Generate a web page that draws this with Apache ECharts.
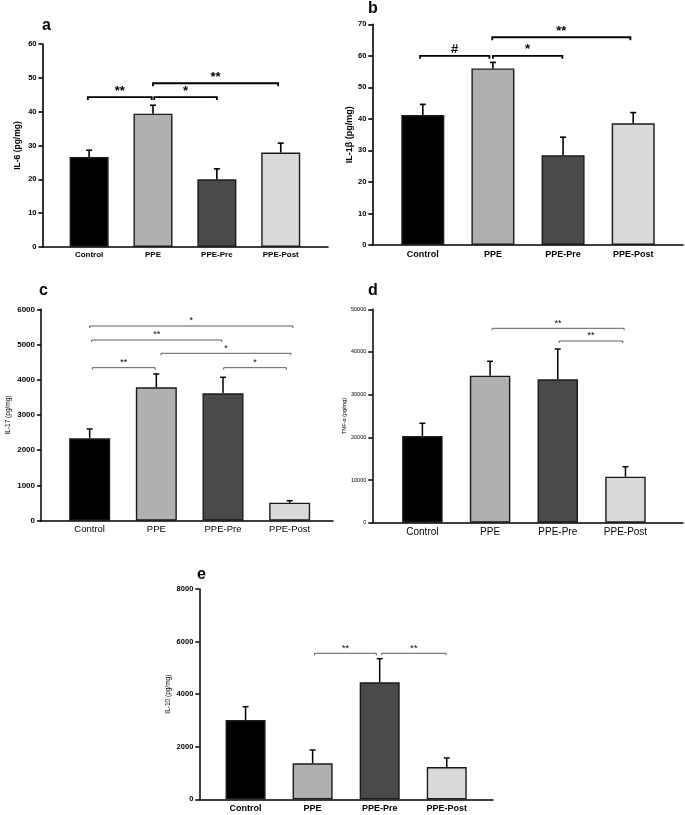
<!DOCTYPE html>
<html>
<head>
<meta charset="utf-8">
<script src="https://cdn.jsdelivr.net/npm/echarts@6/dist/echarts.min.js"></script>
<style>html,body{margin:0;padding:0;background:#fff}#c{width:685px;height:815px}</style>
</head>
<body>
<div id="c"></div>
<script>
// ---------- data ----------
const categories = ['Control', 'PPE', 'PPE-Pre', 'PPE-Post'];
const barColors = ['#000000', '#b0b0b0', '#4a4a4a', '#d9d9d9'];

const il6Mean = [26.6, 39.4, 20.0, 27.9];
const il6Err  = [2.0, 2.5, 3.1, 2.8];
const il6Sig  = [[-0.02, 0.98, 44.3, '**'], [1.02, 2.0, 44.3, '*'], [1.0, 2.96, 48.4, '**']];

const il1bMean = [41.2, 56.0, 28.5, 38.6];
const il1bErr  = [3.4, 1.9, 5.7, 3.4];
const il1bSig  = [[-0.04, 0.95, 60.0, '#'], [1.0, 1.99, 60.0, '*'], [0.99, 2.96, 65.9, '**']];

const il17Mean = [2340, 3786, 3616, 511];
const il17Err  = [263, 378, 454, 57];
const il17Sig  = [[0.0, 3.05, 5526, '*'], [0.03, 1.98, 5129, '**'], [1.07, 3.02, 4751, '*'],
                  [0.04, 0.98, 4343, '**'], [2.01, 2.95, 4343, '*']];

const tnfMean = [20314, 34443, 33599, 10778];
const tnfErr  = [2976, 3373, 7099, 2343];
const tnfSig  = [[1.03, 2.98, 45548, '**'], [2.02, 2.96, 42572, '**']];

const il10Mean = [3017, 1369, 4451, 1229];
const il10Err  = [506, 506, 898, 342];
const il10Sig  = [[1.03, 1.95, 5554, '**'], [2.03, 2.99, 5554, '**']];

// ---------- layout / style (not data) ----------
const FONT = 'Liberation Sans, Arial, sans-serif';
const panels = [
  { key:'a', mean: il6Mean, err: il6Err, sig: il6Sig, yName: 'IL-6 (pg/mg)', yMax: 60, yInt: 10,
    grid:{left:42.5, top:44, width:285.5, height:203}, xMin:-0.73, xMax:3.74, barW:39,
    tickFs:7.5, tickW:'bold', catFs:8, catW:'bold', nameFs:8.5, nameW:'bold', nameGap:20,
    sigFs:13, sigW:'bold', sigLw:1.8, sigTick:3, sigGap:6, lw:1.6, cap:3, catMargin:4,
    title:{left:42, top:18} },
  { key:'b', mean: il1bMean, err: il1bErr, sig: il1bSig, yName: 'IL-1\u03b2 (pg/mg)', yMax: 70, yInt: 10,
    grid:{left:372.3, top:24.3, width:310.7, height:220.7}, xMin:-0.72, xMax:3.71, barW:43,
    tickFs:7.5, tickW:'bold', catFs:9, catW:'bold', nameFs:9, nameW:'bold', nameGap:18,
    sigFs:13, sigW:'bold', sigLw:1.8, sigTick:3, sigGap:6, lw:1.6, cap:3, catMargin:5,
    title:{left:368, top:1} },
  { key:'c', mean: il17Mean, err: il17Err, sig: il17Sig, yName: 'IL-17 (pg/mg)', yMax: 6000, yInt: 1000,
    grid:{left:41, top:309.3, width:292, height:211.4}, xMin:-0.73, xMax:3.65, barW:41,
    tickFs:8, tickW:'bold', catFs:9.5, catW:'normal', nameFs:6.5, nameW:'normal', nameGap:29,
    sigFs:9, sigW:'normal', sigLw:0.8, sigTick:2, sigGap:5, lw:1.5, cap:3, catMargin:4,
    title:{left:39, top:283} },
  { key:'d', mean: tnfMean, err: tnfErr, sig: tnfSig, yName: 'TNF-\u03b1 (pg/mg)', yMax: 50000, yInt: 10000,
    grid:{left:372.3, top:309.3, width:310.7, height:213.4}, xMin:-0.74, xMax:3.85, barW:40.5,
    tickFs:5.5, tickW:'normal', catFs:10, catW:'normal', nameFs:5.5, nameW:'normal', nameGap:25,
    sigFs:9, sigW:'normal', sigLw:0.8, sigTick:2, sigGap:5, lw:1.5, cap:3, catMargin:5,
    title:{left:368, top:283} },
  { key:'e', mean: il10Mean, err: il10Err, sig: il10Sig, yName: 'IL-10 (pg/mg)', yMax: 8000, yInt: 2000,
    grid:{left:199.3, top:589, width:293.7, height:210.3}, xMin:-0.69, xMax:3.69, barW:40,
    tickFs:7.5, tickW:'bold', catFs:9, catW:'bold', nameFs:6.5, nameW:'normal', nameGap:28,
    sigFs:9, sigW:'normal', sigLw:0.8, sigTick:2, sigGap:5, lw:1.5, cap:3, catMargin:5,
    title:{left:197, top:567} }
];

const option = {
  animation: false,
  backgroundColor: '#fff',
  textStyle: { fontFamily: FONT },
  title: [], grid: [], xAxis: [], yAxis: [], series: []
};

panels.forEach((p, gi) => {
  option.title.push({ text: p.key, left: p.title.left, top: p.title.top, padding: 0,
    textStyle: { fontFamily: FONT, fontSize: 16, fontWeight: 'bold', color: '#000' } });
  option.grid.push(Object.assign({ containLabel: false }, p.grid));
  option.xAxis.push({
    gridIndex: gi, type: 'value', min: p.xMin, max: p.xMax,
    axisLine: { show: true, onZero: false, lineStyle: { color: '#000', width: p.lw } },
    axisTick: { show: false }, splitLine: { show: false },
    axisLabel: { customValues: [0, 1, 2, 3], formatter: v => categories[Math.round(v)] || '',
      fontFamily: FONT, fontSize: p.catFs, fontWeight: p.catW, color: '#000', margin: p.catMargin,
      showMinLabel: true, showMaxLabel: true, hideOverlap: false, interval: 0 }
  });
  option.yAxis.push({
    gridIndex: gi, type: 'value', min: 0, max: p.yMax, interval: p.yInt,
    name: p.yName, nameLocation: 'middle', nameGap: p.nameGap, nameRotate: 90,
    nameTextStyle: { fontFamily: FONT, fontSize: p.nameFs, fontWeight: p.nameW, color: '#000' },
    axisLine: { show: true, onZero: false, lineStyle: { color: '#000', width: p.lw } },
    axisTick: { show: true, inside: false, length: 4, lineStyle: { color: '#000', width: p.lw } },
    splitLine: { show: false },
    axisLabel: { fontFamily: FONT, fontSize: p.tickFs, fontWeight: p.tickW, color: '#000', margin: 6,
      formatter: v => String(v) }
  });
  // bars
  option.series.push({
    type: 'bar', xAxisIndex: gi, yAxisIndex: gi, barWidth: p.barW,
    data: p.mean.map((v, i) => ({ value: [i, v],
      itemStyle: { color: barColors[i], borderColor: '#1a1a1a', borderWidth: 1.4 } })),
    z: 2
  });
  // error bars (upper only)
  option.series.push({
    type: 'custom', xAxisIndex: gi, yAxisIndex: gi, z: 1,
    data: p.mean.map((v, i) => [i, v, v + p.err[i]]),
    encode: { x: 0, y: [1, 2] },
    renderItem: (params, api) => {
      const a = api.coord([api.value(0), api.value(1)]);
      const b = api.coord([api.value(0), api.value(2)]);
      return { type: 'group', children: [
        { type: 'line', shape: { x1: a[0], y1: a[1], x2: b[0], y2: b[1] },
          style: { stroke: '#000', lineWidth: p.lw } },
        { type: 'line', shape: { x1: b[0] - p.cap, y1: b[1], x2: b[0] + p.cap, y2: b[1] },
          style: { stroke: '#000', lineWidth: p.lw } }
      ]};
    }
  });
  // significance brackets
  option.series.push({
    type: 'custom', xAxisIndex: gi, yAxisIndex: gi, z: 3,
    data: p.sig.map(s => [s[0], s[1], s[2]]),
    encode: { x: [0, 1], y: 2 },
    renderItem: (params, api) => {
      const s = p.sig[params.dataIndex];
      const a = api.coord([api.value(0), api.value(2)]);
      const b = api.coord([api.value(1), api.value(2)]);
      const t = p.sigTick;
      return { type: 'group', children: [
        { type: 'polyline', shape: { points: [[a[0], a[1] + t], [a[0], a[1]], [b[0], b[1]], [b[0], b[1] + t]] },
          style: { stroke: p.sigLw < 1 ? '#333' : '#000', lineWidth: p.sigLw, fill: null } },
        { type: 'text', x: (a[0] + b[0]) / 2, y: a[1] - p.sigGap,
          style: { text: s[3], fontFamily: FONT, fontSize: p.sigFs, fontWeight: p.sigW, fill: '#000',
            align: 'center', verticalAlign: 'middle' } }
      ]};
    }
  });
});

const chart = echarts.init(document.getElementById('c'), null, { renderer: 'canvas' });
chart.setOption(option);
</script>
</body>
</html>
